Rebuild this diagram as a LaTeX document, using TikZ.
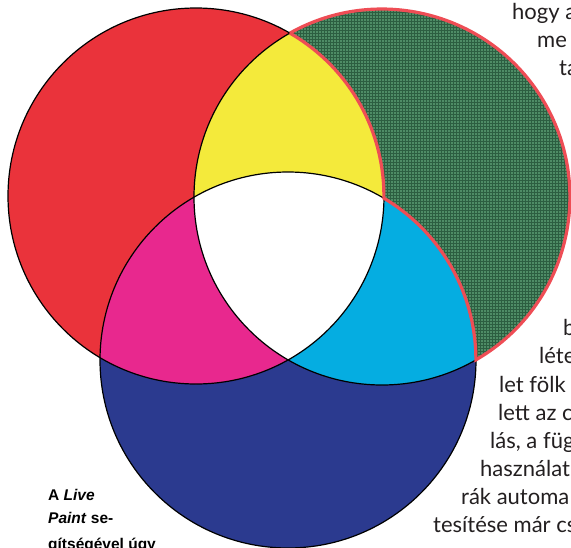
\documentclass[tikz,border=0pt]{standalone}
\usepackage{fontspec}
\setmainfont{Lato}
\newfontfamily\capfont{Liberation Sans}
\definecolor{cRed}{HTML}{EA333B}
\definecolor{cYel}{HTML}{F4EA3B}
\definecolor{cMag}{HTML}{E8288E}
\definecolor{cCya}{HTML}{05ADE1}
\definecolor{cBlu}{HTML}{2B3A8F}
\definecolor{cGrnA}{HTML}{4E8C66}
\definecolor{cGrnB}{HTML}{2C5E41}
\definecolor{cEdge}{HTML}{EE4D55}
\definecolor{cTxt}{HTML}{231F20}
\begin{document}
\begin{tikzpicture}[x=1pt,y=-1pt,
  body/.style={font=\fontsize{22}{26}\selectfont, text=cTxt, inner sep=0pt, anchor=base west},
  capt/.style={font=\capfont\bfseries\fontsize{15.5}{18}\selectfont, text=black, inner sep=0pt, anchor=base west},
  outline/.style={draw=black, line width=1.2pt}]
\useasboundingbox (0,0) rectangle (571,547);
\clip (0,0) rectangle (571,547);
\coordinate (R) at (196,196);
\coordinate (G) at (382,197);
\coordinate (B) at (288,360);
\coordinate (P1) at (289.9,33.1);
\def\rad{188pt}
% base fills
\fill[cBlu] (B) circle[radius=\rad];
\fill[cGrnA] (G) circle[radius=\rad];
\begin{scope}
  \clip (G) circle[radius=\rad];
  \draw[cGrnB, line width=0.9pt, step=3pt] (180,400) grid (571,0);
\end{scope}
\fill[cRed] (R) circle[radius=\rad];
% pairwise overlaps
\begin{scope}
  \clip (R) circle[radius=\rad];
  \fill[cYel] (G) circle[radius=\rad];
  \fill[cMag] (B) circle[radius=\rad];
\end{scope}
\begin{scope}
  \clip (G) circle[radius=\rad];
  \fill[cCya] (B) circle[radius=\rad];
\end{scope}
\begin{scope}
  \clip (R) circle[radius=\rad];
  \clip (G) circle[radius=\rad];
  \fill[white] (B) circle[radius=\rad];
\end{scope}
% black outlines
\draw[outline] (R) circle[radius=\rad];
\draw[outline] (B) circle[radius=\rad];
\draw[outline] (G) circle[radius=\rad];
% red edge round the green-only region
\draw[cEdge, line width=3.2pt, line join=miter]
  (P1) arc[start angle=-119.3, end angle=60, radius=188]
       arc[start angle=0, end angle=-59.3, radius=188]
       arc[start angle=0.7, end angle=-60.04, radius=188] -- cycle;
% body text, cut at the right edge
\node[body] (l1) at (512,19) {hogy a};
\node[body] (l2) at (537,47) {me};
\node[body] (l3) at (559,75) {ta};
\node[body] (l4) at (563,335) {b};
\node[body] (l5) at (539,363) {léte};
\node[body] (l6) at (499,392) {let fölk};
\node[body] (l7) at (498,420) {lett az c};
\node[body] (l8) at (490,448) {lás, a füg};
\node[body] (l9) at (480,476) {használat};
\node[body] (l10) at (461,504) {rák automa};
\node[body] (l11) at (433,532) {tesítése már cs};
% caption
\node[capt] (c1) at (48,500) {A \textit{Live}};
\node[capt] (c2) at (48,523) {\textit{Paint} se-};
\node[capt] (c3) at (48,549) {gítségével úgy};
\end{tikzpicture}
\end{document}
